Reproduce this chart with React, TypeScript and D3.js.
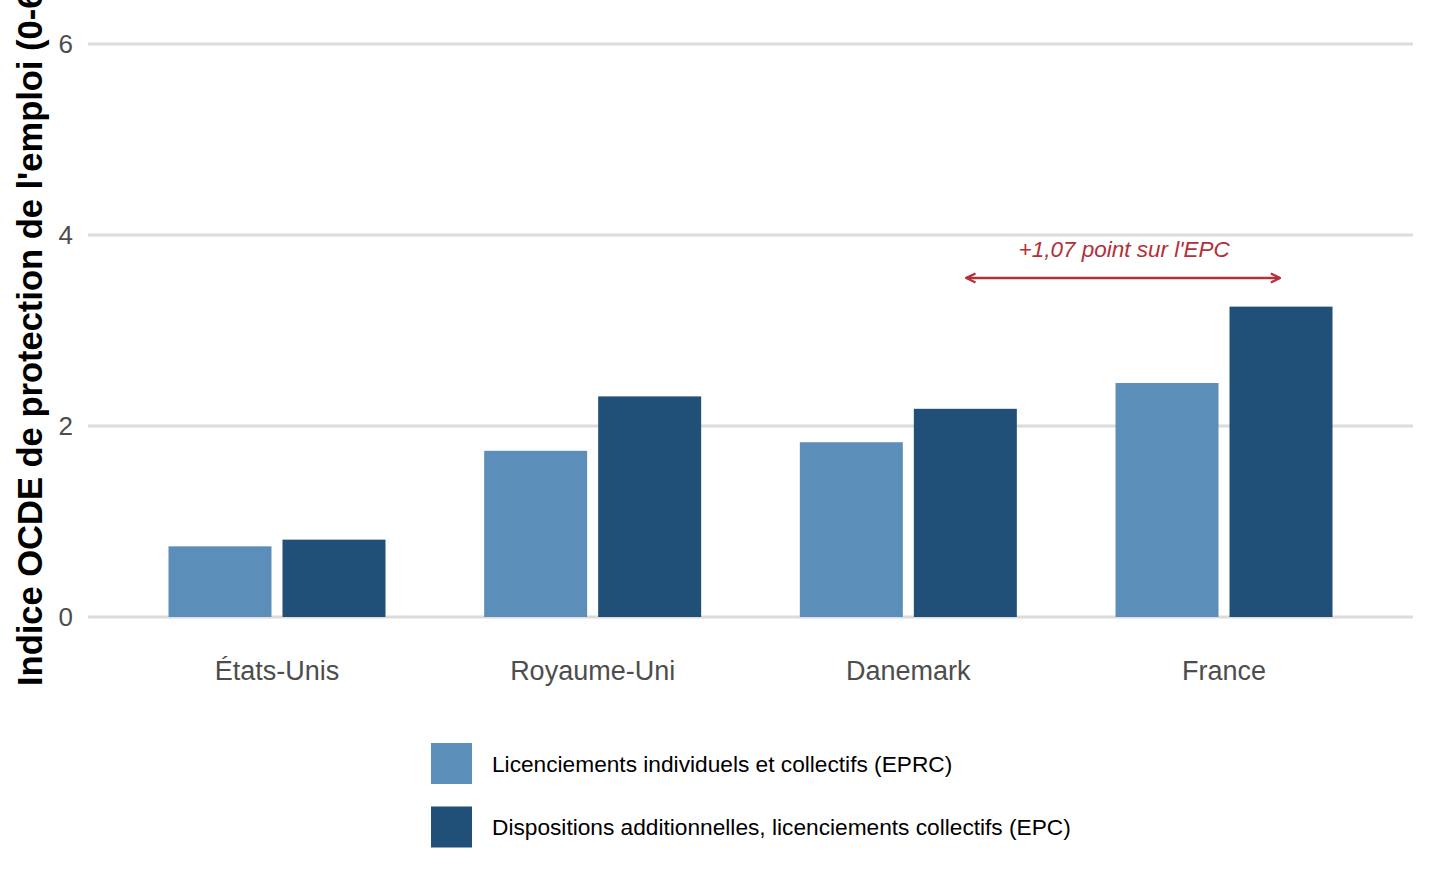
import React from "react";
import * as d3 from "d3";

const countries = ["États-Unis", "Royaume-Uni", "Danemark", "France"];
const seriesKeys = ["EPRC", "EPC"];
const seriesLabels = [
  "Licenciements individuels et collectifs (EPRC)",
  "Dispositions additionnelles, licenciements collectifs (EPC)",
];
const eprcValues = [0.74, 1.74, 1.83, 2.45];
const epcValues = [0.81, 2.31, 2.18, 3.25];
const yTicks = [0, 2, 4, 6];
const yTitle = "Indice OCDE de protection de l'emploi (0-6)";
const annotationText = "+1,07 point sur l'EPC";
const annotationFrom = "Danemark";
const annotationTo = "France";
const annotationArrowY = 3.55;
const annotationTextY = 3.77;

const W = 1440;
const H = 883;
const colors = ["#5b8fb9", "#204f78"];
const red = "#b2303a";
const FONT = "'Liberation Sans', Arial, Helvetica, sans-serif";

export default function App() {
  const x = d3
    .scaleBand<string>()
    .domain(countries)
    .range([88, 1413])
    .paddingInner(0.3126)
    .paddingOuter(0.255);
  const xInner = d3
    .scaleBand<string>()
    .domain(seriesKeys)
    .range([0, x.bandwidth()])
    .paddingInner(0.0965);
  const y = d3.scaleLinear().domain([0, 6]).range([617, 44]);

  const values = [eprcValues, epcValues];

  const arrowX1 = (x(annotationFrom) as number) + (xInner("EPC") as number) + xInner.bandwidth() / 2;
  const arrowX2 = (x(annotationTo) as number) + (xInner("EPC") as number) + xInner.bandwidth() / 2;
  const ay = y(annotationArrowY);

  return (
    <svg
      width={W}
      height={H}
      style={{ position: "absolute", left: 0, top: 0, background: "#fff" }}
      fontFamily={FONT}
    >
      <defs>
        <marker
          id="arrowhead"
          viewBox="0 0 10 10"
          refX="9"
          refY="5"
          markerWidth="4.4"
          markerHeight="4.4"
          orient="auto-start-reverse"
          markerUnits="strokeWidth"
        >
          <path d="M1,1 L9,5 L1,9" fill="none" stroke={red} strokeWidth={2} strokeLinejoin="miter" />
        </marker>
      </defs>
      {yTicks.map((t) => (
        <line
          key={"g" + t}
          x1={88}
          x2={1413}
          y1={y(t)}
          y2={y(t)}
          stroke="#dcdcdc"
          strokeWidth={2.8}
        />
      ))}
      {yTicks.map((t) => (
        <text
          key={"t" + t}
          x={73}
          y={y(t)}
          dy="0.36em"
          textAnchor="end"
          fontSize={26}
          fill="#4d4d4d"
        >
          {t}
        </text>
      ))}
      {countries.map((c, i) => (
        <g key={c} transform={`translate(${x(c)},0)`}>
          {seriesKeys.map((k, j) => (
            <rect
              key={k}
              x={xInner(k)}
              y={y(values[j][i])}
              width={xInner.bandwidth()}
              height={y(0) - y(values[j][i])}
              fill={colors[j]}
            />
          ))}
        </g>
      ))}
      {countries.map((c) => (
        <text
          key={"x" + c}
          x={(x(c) as number) + x.bandwidth() / 2}
          y={680}
          textAnchor="middle"
          fontSize={27}
          fill="#4d4d4d"
        >
          {c}
        </text>
      ))}
      <text
        transform={`translate(42,686) rotate(-90)`}
        textAnchor="start"
        fontSize={34.5}
        fontWeight="bold"
        fill="#000"
      >
        {yTitle}
      </text>
      <line
        x1={arrowX1 + 1}
        x2={arrowX2 - 1}
        y1={ay}
        y2={ay}
        stroke={red}
        strokeWidth={2.6}
        markerStart="url(#arrowhead)"
        markerEnd="url(#arrowhead)"
      />
      <text
        x={(arrowX1 + arrowX2) / 2 + 1}
        y={y(annotationTextY)}
        textAnchor="middle"
        fontSize={22.5}
        fontStyle="italic"
        fill={red}
      >
        {annotationText}
      </text>
      {seriesLabels.map((lab, j) => (
        <g key={lab} transform={`translate(431,${743 + j * 63.5})`}>
          <rect width={41} height={41} fill={colors[j]} />
          <text x={61} y={20.5} dy="0.36em" fontSize={22.7} fill="#000">
            {lab}
          </text>
        </g>
      ))}
    </svg>
  );
}
